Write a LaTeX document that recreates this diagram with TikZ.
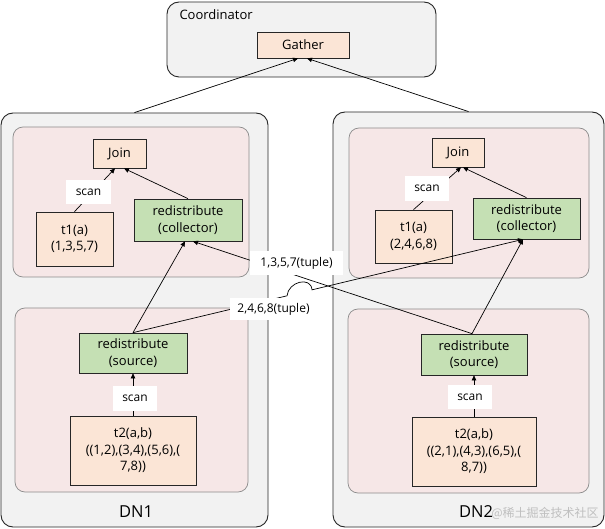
\documentclass[tikz,border=0pt]{standalone}
\usepackage{fontspec}
\setmainfont{Open Sans}
\newfontfamily\cjkfont{Noto Sans CJK SC}
\usetikzlibrary{arrows.meta,calc}
\definecolor{peach}{RGB}{251,229,214}
\definecolor{leaf}{RGB}{197,224,180}
\definecolor{blush}{RGB}{246,231,231}
\definecolor{fog}{RGB}{242,242,242}

\begin{document}
\begin{tikzpicture}[x=1pt, y=-1pt,
  font=\fontsize{13}{16.5}\selectfont,
  outer/.style={draw=black!85, fill=fog, rounded corners=12pt, line width=0.9pt, inner sep=0pt},
  inner/.style={draw=black!45, fill=blush, rounded corners=10pt, line width=0.7pt, inner sep=0pt},
  op/.style={draw=black!85, fill=peach, line width=0.7pt, inner sep=0pt, align=center},
  rd/.style={draw=black!85, fill=leaf, line width=0.7pt, inner sep=0pt, align=center},
  lbl/.style={fill=white, inner sep=0pt, font=\fontsize{12}{14}\selectfont},
  flow/.style={-{Triangle[length=5pt,width=4.5pt]}, line width=0.7pt}]
\useasboundingbox (0,0) rectangle (605,529);

% coordinator
\node[outer, minimum width=269pt, minimum height=75pt] (coord) at (301.5,39.5) {};
\node[anchor=west] (coordname) at (176,15) {Coordinator};
\node[op, minimum width=92pt, minimum height=26pt] (gather) at (303,45) {Gather};

% data nodes
\node[outer, minimum width=267pt, minimum height=414pt] (dn1) at (134.5,320) {};
\node[outer, minimum width=271pt, minimum height=415pt] (dn2) at (468.5,319.5) {};
\node[inner, minimum width=236pt, minimum height=150pt] (dn1up) at (131,202) {};
\node[inner, minimum width=233pt, minimum height=184pt] (dn1lo) at (131.5,400) {};
\node[inner, minimum width=240pt, minimum height=150pt] (dn2up) at (469,203) {};
\node[inner, minimum width=241pt, minimum height=184pt] (dn2lo) at (468.5,401) {};
\node[font=\fontsize{16.5}{19}\selectfont] (dn1name) at (136,512) {DN1};
\node[font=\fontsize{16.5}{19}\selectfont] (dn2name) at (476,512) {DN2};

% DN1 operators
\node[op, minimum width=53pt, minimum height=29pt] (join1) at (119.5,153.5) {Join};
\node[op, minimum width=77pt, minimum height=54pt] (t1a) at (74.5,239) {t1(a)\\(1,3,5,7)};
\node[rd, minimum width=108pt, minimum height=42pt] (col1) at (188,220) {redistribute\\(collector)};
\node[rd, minimum width=108pt, minimum height=40pt] (src1) at (133,353) {redistribute\\(source)};
\node[op, minimum width=126pt, minimum height=69pt] (t2a) at (133,450.5) {t2(a,b)\\((1,2),(3,4),(5,6),(\\7,8))};

% DN2 operators
\node[op, minimum width=52pt, minimum height=29pt] (join2) at (458,152.5) {Join};
\node[op, minimum width=77pt, minimum height=53pt] (t1b) at (413.5,236.5) {t1(a)\\(2,4,6,8)};
\node[rd, minimum width=107pt, minimum height=41pt] (col2) at (526.5,218.5) {redistribute\\(collector)};
\node[rd, minimum width=106pt, minimum height=41pt] (src2) at (474,354.5) {redistribute\\(source)};
\node[op, minimum width=124pt, minimum height=69pt] (t2b) at (474,451.5) {t2(a,b)\\((2,1),(4,3),(6,5),(\\8,7))};

% connectors
\draw[flow] (dn1.north) -- ([xshift=-5pt]gather.south);
\draw[flow] (dn2.north) -- ([xshift=4pt]gather.south);
\draw[flow] (t1a.north) -- ([xshift=-4.5pt]join1.south);
\draw[flow] (col1.north) -- ([xshift=4.5pt]join1.south);
\draw[flow] (t1b.north) -- ([xshift=3pt]join2.south);
\draw[flow] (col2.north) -- ([xshift=5pt]join2.south);
\draw[flow] (t2a.north) -- (src1.south);
\draw[flow] (t2b.north) -- (src2.south);
\draw[flow] (src1.north) -- ([xshift=-3pt]col1.south);
\draw[flow] ([xshift=-2pt]src2.north) -- ([xshift=-3.5pt]col2.south);
\draw[flow] ([xshift=-2pt]src2.north) -- ([xshift=5pt]col1.south);
\coordinate (colB) at ([xshift=-3.5pt]col2.south);
\coordinate (hopa) at ($(src1.north)!0.395!(colB)$);
\coordinate (hopb) at ($(src1.north)!0.459!(colB)$);
\draw[flow] (src1.north) -- (hopa) .. controls ($(hopa)+(1,-14)$) and ($(hopb)+(-1,-14)$) .. (hopb) -- (colB);

% labels on the connectors
\node[lbl, minimum width=45pt, minimum height=24pt] (scan1) at (88.5,192) {scan};
\node[lbl, minimum width=44pt, minimum height=25pt] (scan2) at (135,398.5) {scan};
\node[lbl, minimum width=44pt, minimum height=25pt] (scan3) at (427,188.5) {scan};
\node[lbl, minimum width=44pt, minimum height=24pt] (scan4) at (470,397) {scan};
\node[lbl, minimum width=93pt, minimum height=24pt] (tup1) at (296.5,263) {1,3,5,7(tuple)};
\node[lbl, minimum width=87pt, minimum height=22pt] (tup2) at (273.5,309) {2,4,6,8(tuple)};

\node[font=\cjkfont\fontsize{12}{14}\selectfont, text=black!25] (mark) at (545,513) {@稀土掘金技术社区};
\end{tikzpicture}
\end{document}
